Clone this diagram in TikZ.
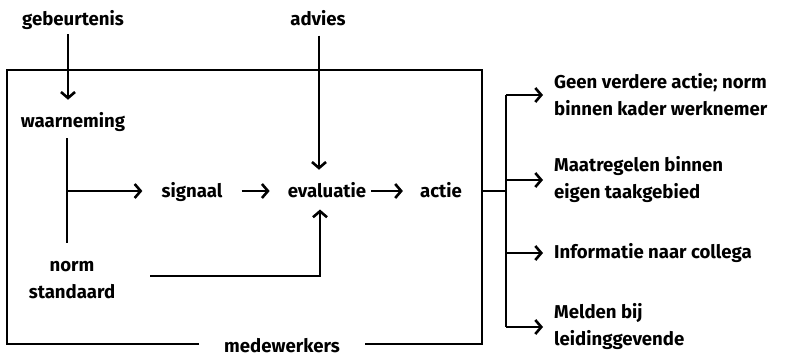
\documentclass[tikz,border=0pt]{standalone}
\usepackage{fontspec}
\setmainfont{Fira Sans}[UprightFont=* Bold]
\usetikzlibrary{arrows.meta}
\begin{document}
\begin{tikzpicture}[x=1pt,y=-1pt,
  font=\fontsize{18.6}{27}\selectfont,
  txt/.style={inner sep=0pt},
  line/.style={line width=2.6pt, line join=miter},
  arr/.style={line, -{Straight Barb[length=6pt,width=14pt]}}]
\useasboundingbox (0,0) rectangle (786,357);

% text nodes
\node[txt,anchor=base] (geb) at (73,25) {gebeurtenis};
\node[txt,anchor=base] (adv) at (318,25) {advies};
\node[txt,anchor=base] (waar) at (73,127) {waarneming};
\node[txt,anchor=base] (sig) at (192,197) {signaal};
\node[txt,anchor=base] (eval) at (327,197) {evaluatie};
\node[txt,anchor=base] (act) at (441,197) {actie};
\node[txt,align=center] (ns) at (72,280) {norm\\standaard};
\node[txt,anchor=base] (med) at (282,352) {medewerkers};

\node[txt,anchor=west,align=left] (o1) at (554,95) {Geen verdere actie; norm\\binnen kader werknemer};
\node[txt,anchor=west,align=left] (o2) at (554,180) {Maatregelen binnen\\eigen taakgebied};
\node[txt,anchor=west] (o3) at (554,253) {Informatie naar collega};
\node[txt,anchor=west,align=left] (o4) at (554,327) {Melden bij\\leidinggevende};

% frame
\coordinate (tl) at (7,70);
\coordinate (tr) at (482,70);
\coordinate (br) at (482,344);
\coordinate (bl) at (7,344);
\draw[line] ([xshift=-25pt]med.west |- bl) -- (bl) -- (tl) -- (tr) -- (br)
  -- ([xshift=25pt]med.east |- br);

% junction points
\coordinate (gx) at (68,0);
\coordinate (ax) at (319,0);
\coordinate (j1) at (67,191);
\coordinate (ej) at (320,276);
\coordinate (bx) at (506,191);

% flow
\draw[arr, shorten <=5pt, shorten >=12pt] (geb.south -| gx) -- (waar.north -| gx);
\draw[arr, shorten <=10pt, shorten >=12pt] (adv.south -| ax) -- (eval.north -| ax);
\draw[line, shorten <=7pt, shorten >=18pt] (waar.south -| j1) -- (ns.north -| j1);
\draw[arr, shorten >=19pt] (j1) -- (j1 -| sig.west);
\draw[arr, shorten <=19pt, shorten >=18pt] (sig.east |- j1) -- (eval.west |- j1);
\draw[arr, shorten <=5pt, shorten >=17pt] (eval.east |- j1) -- (act.west |- j1);
\draw[arr, shorten >=12pt] ([xshift=35pt]ns.east |- ej) -- (ej) -- (eval.south -| ej);

% outcomes
\draw[line] (bx -| br) -- (bx);
\draw[line] (bx |- o1.west) -- (bx |- o4.west);
\foreach \o in {o1,o2,o3,o4}
  \draw[arr, shorten >=11pt] (bx |- \o.west) -- (\o.west);
\end{tikzpicture}
\end{document}
